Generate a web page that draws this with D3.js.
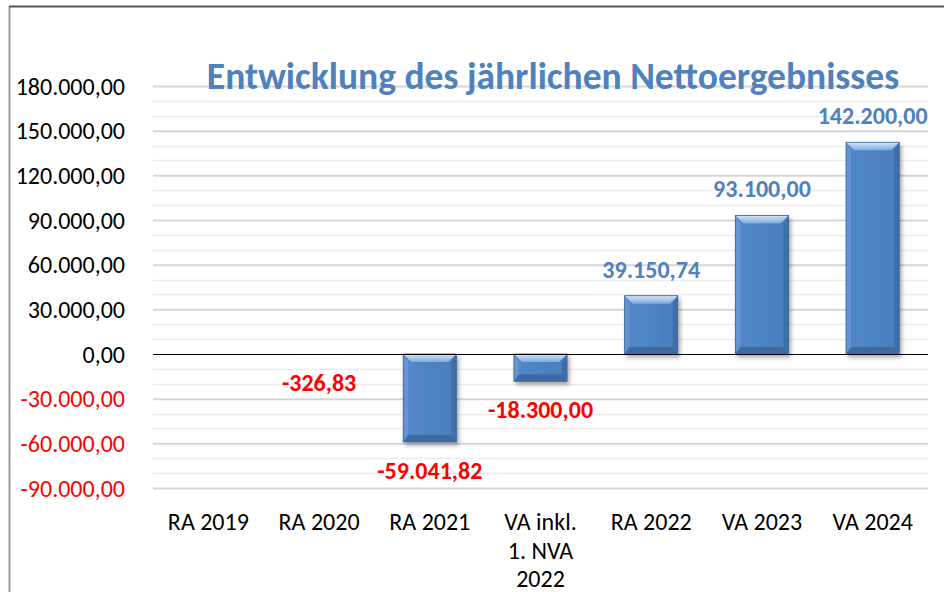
<!DOCTYPE html>
<html><head><meta charset="utf-8">
<script src="https://cdn.jsdelivr.net/npm/d3@7"></script>
<style>
html,body{margin:0;padding:0;background:#fff;}
svg{display:block;font-family:Calibri,Carlito,Lato,sans-serif;}
</style></head>
<body><svg id="c" width="944" height="592"></svg>
<script>
const categories = [["RA 2019"],["RA 2020"],["RA 2021"],["VA inkl.","1. NVA","2022"],["RA 2022"],["VA 2023"],["VA 2024"]];
const values = [null, -326.83, -59041.82, -18300, 39150.74, 93100, 142200];
const yTicks = [-90000,-60000,-30000,0,30000,60000,90000,120000,150000,180000];
const titleText = "Entwicklung des jährlichen Nettoergebnisses";

(function(){
const svg = d3.select("#c");
const W = 944, H = 592;
const mLeft = 153, mRight = 928, mTop = 86, mBottom = 488;
const yMin = -90000, yMax = 180000;

const locale = d3.formatLocale({decimal:",", thousands:".", grouping:[3], currency:["","€"], minus:"-"});
const fmt = locale.format(",.2f");

const x = d3.scaleBand().domain(d3.range(categories.length)).range([mLeft,mRight]).paddingInner(0.52).paddingOuter(0.26);
const y = d3.scaleLinear().domain([yMin,yMax]).range([mBottom,mTop]);

// frame
svg.append("line").attr("x1",9.5).attr("x2",9.5).attr("y1",6).attr("y2",H).attr("stroke","#9a9a9a").attr("stroke-width",2);
svg.append("line").attr("x1",9).attr("x2",W).attr("y1",6.5).attr("y2",6.5).attr("stroke","#555").attr("stroke-width",2);

const defs = svg.append("defs");
const f = defs.append("filter").attr("id","sh").attr("x","-30%").attr("y","-30%").attr("width","160%").attr("height","160%");
f.append("feDropShadow").attr("dx",2).attr("dy",3).attr("stdDeviation",2.2).attr("flood-color","#000").attr("flood-opacity",0.35);
const gTop = defs.append("linearGradient").attr("id","gt").attr("x1",0).attr("y1",0).attr("x2",0).attr("y2",1);
gTop.append("stop").attr("offset","0%").attr("stop-color","#d4e6fa");
gTop.append("stop").attr("offset","100%").attr("stop-color","#7eaade");
const gMain = defs.append("linearGradient").attr("id","gm").attr("x1",0).attr("y1",0).attr("x2",1).attr("y2",0);
gMain.append("stop").attr("offset","0%").attr("stop-color","#5287c8");
gMain.append("stop").attr("offset","100%").attr("stop-color","#4a7dbb");

// minor gridlines
const minor = d3.range(yMin, yMax+1, 10000).filter(v => v % 30000 !== 0);
svg.append("g").selectAll("line").data(minor).join("line")
  .attr("x1",mLeft).attr("x2",mRight).attr("y1",d=>Math.round(y(d))+0.5).attr("y2",d=>Math.round(y(d))+0.5)
  .attr("stroke","#ececec").attr("stroke-width",1.5);
// major gridlines via axis
const yAxis = d3.axisLeft(y).tickValues(yTicks).tickSize(-(mRight-mLeft)).tickFormat(fmt).tickPadding(28);
const ga = svg.append("g").attr("transform",`translate(${mLeft},0)`).call(yAxis);
ga.select(".domain").remove();
ga.selectAll(".tick line").attr("stroke", d => d===0 ? "none" : "#d6d6d6").attr("stroke-width",2);
ga.selectAll(".tick text").attr("font-size",24).attr("fill", d => d<0 ? "#ff0000" : "#000")
  .attr("font-family","Calibri,Carlito,Lato,sans-serif").attr("x",-28).attr("dy","0.34em");

// bars
const b0 = 8;
const bars = svg.append("g");
values.forEach((v,i) => {
  if (v === null) return;
  const x0 = x(i), x1 = x(i)+x.bandwidth();
  const y0 = Math.min(y(v), y(0)), y1 = Math.max(y(v), y(0));
  const h = y1-y0;
  const g = bars.append("g").attr("filter","url(#sh)");
  g.append("rect").attr("x",x0).attr("y",y0).attr("width",x1-x0).attr("height",Math.max(h,0.6)).attr("fill","url(#gm)");
  if (h < 2) return;
  const b = Math.min(b0, h/2), bs = Math.min(5, h/2), bb = Math.min(7, h/2);
  g.append("path").attr("d",`M${x0},${y0}L${x1},${y0}L${x1-b},${y0+b}L${x0+b},${y0+b}Z`).attr("fill","url(#gt)");
  g.append("path").attr("d",`M${x0},${y0}L${x0+bs},${y0+b}L${x0+bs},${y1-bb}L${x0},${y1}Z`).attr("fill","#6594d0");
  g.append("path").attr("d",`M${x1},${y0}L${x1-bs},${y0+b}L${x1-bs},${y1-bb}L${x1},${y1}Z`).attr("fill","#3f6ea8");
  g.append("path").attr("d",`M${x0},${y1}L${x0+bs},${y1-bb}L${x1-bs},${y1-bb}L${x1},${y1}Z`).attr("fill","#3e6ba3");
  g.append("rect").attr("x",x0).attr("y",y0).attr("width",x1-x0).attr("height",h).attr("fill","none").attr("stroke","#3a6497").attr("stroke-width",0.8);
});

// zero line
svg.append("line").attr("x1",mLeft).attr("x2",mRight).attr("y1",Math.round(y(0))+0.5).attr("y2",Math.round(y(0))+0.5).attr("stroke","#000").attr("stroke-width",1);

// data labels
svg.append("g").selectAll("text").data(values.map((v,i)=>({v,i})).filter(d=>d.v!==null)).join("text")
  .attr("x", d => x(d.i)+x.bandwidth()/2)
  .attr("y", d => d.v >= 0 ? y(d.v) - 18 : Math.max(y(d.v), y(0)) + 37)
  .attr("text-anchor","middle").attr("font-weight","bold").attr("font-size",24)
  .attr("fill", d => d.v >= 0 ? "#4f81bd" : "#ff0000")
  .text(d => fmt(d.v));

// x labels
const gx = svg.append("g");
categories.forEach((lines,i) => {
  const t = gx.append("text").attr("x", x(i)+x.bandwidth()/2).attr("y",530).attr("text-anchor","middle").attr("font-size",24).attr("fill","#000");
  lines.forEach((l,j) => t.append("tspan").attr("x", x(i)+x.bandwidth()/2).attr("dy", j===0?0:28.5).text(l));
});

// title
svg.append("text").attr("x",553).attr("y",89).attr("text-anchor","middle").attr("font-weight","bold").attr("font-size",37.5)
  .attr("fill","#4f81bd").text(titleText);
})();
</script></body></html>
